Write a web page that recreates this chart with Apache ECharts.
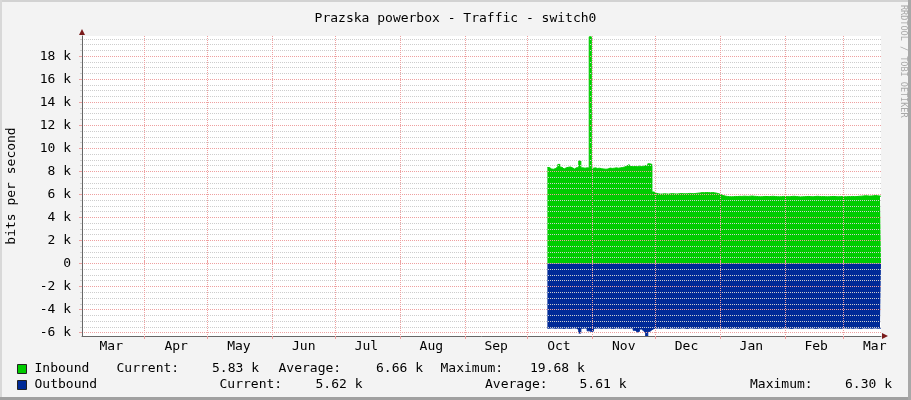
<!DOCTYPE html>
<html>
<head>
<meta charset="utf-8">
<title>Prazska powerbox - Traffic - switch0</title>
<script src="https://cdn.jsdelivr.net/npm/echarts@6/dist/echarts.min.js"></script>
<style>
html, body { margin: 0; padding: 0; background: #f3f3f3; }
#main { width: 911px; height: 400px; }
</style>
</head>
<body>
<div id="main"></div>
<script>
var FONT = '"DejaVu Sans Mono", "Liberation Mono", monospace';

// one category per day over the whole graph period
var firstDay = '2013-03-02';
var lastDay = '2014-03-19';
// the counters only have data from here on
var dataStart = '2013-10-11';

var monthNames = ['Jan', 'Feb', 'Mar', 'Apr', 'May', 'Jun', 'Jul', 'Aug', 'Sep', 'Oct', 'Nov', 'Dec'];

// inbound, k bit/s, daily from Oct 11 to Mar 19
var inboundOct = [8.33, 8.2, 8.18, 8.25, 8.4, 8.6, 8.35, 8.2, 8.3, 8.35, 8.38, 8.3, 8.2, 8.32, 8.3, 8.9, 8.3, 8.27, 8.3, 8.28, 19.68];
var inboundNov = [8.27, 8.3, 8.25, 8.27, 8.22, 8.2, 8.18, 8.2, 8.28, 8.25, 8.27, 8.3, 8.27, 8.3, 8.33, 8.38, 8.45, 8.58, 8.42, 8.4, 8.42, 8.4, 8.45, 8.42, 8.45, 8.5, 8.45, 8.65, 8.6, 6.2];
var inboundDec = [6.1, 6.05, 6.02, 6.03, 6.05, 6.04, 6.02, 6.05, 6.06, 6.04, 6.03, 6.05, 6.07, 6.06, 6.05, 6.06, 6.08, 6.07, 6.06, 6.08, 6.1, 6.12, 6.15, 6.14, 6.16, 6.15, 6.14, 6.16, 6.13, 6.1, 6.05];
var inboundJan = [5.98, 5.9, 5.85, 5.82, 5.8, 5.79, 5.8, 5.82, 5.81, 5.83, 5.82, 5.84, 5.83, 5.82, 5.84, 5.85, 5.83, 5.82, 5.8, 5.79, 5.8, 5.82, 5.81, 5.8, 5.82, 5.83, 5.81, 5.8, 5.79, 5.8, 5.82];
var inboundFeb = [5.81, 5.8, 5.79, 5.82, 5.83, 5.81, 5.8, 5.78, 5.79, 5.8, 5.81, 5.82, 5.8, 5.79, 5.81, 5.83, 5.82, 5.8, 5.81, 5.8, 5.79, 5.8, 5.81, 5.82, 5.8, 5.79, 5.8, 5.81];
var inboundMar = [5.8, 5.79, 5.81, 5.8, 5.82, 5.8, 5.81, 5.83, 5.84, 5.86, 5.88, 5.87, 5.85, 5.86, 5.88, 5.9, 5.87, 5.85, 5.83];

// outbound, drawn below zero
var outboundOct = [-5.62, -5.6, -5.61, -5.63, -5.6, -5.62, -5.61, -5.64, -5.6, -5.62, -5.63, -5.61, -5.6, -5.62, -5.75, -6.05, -5.62, -5.6, -5.63, -5.85, -5.9];
var outboundNov = [-5.88, -5.62, -5.6, -5.61, -5.63, -5.6, -5.62, -5.61, -5.6, -5.63, -5.62, -5.6, -5.61, -5.62, -5.6, -5.63, -5.61, -5.62, -5.6, -5.61, -5.8, -5.95, -5.9, -5.7, -5.85, -6.0, -6.3, -5.9, -5.75, -5.65];
var outboundDec = [-5.62, -5.6, -5.63, -5.61, -5.6, -5.62, -5.64, -5.6, -5.61, -5.62, -5.6, -5.63, -5.61, -5.6, -5.62, -5.64, -5.6, -5.61, -5.62, -5.6, -5.63, -5.61, -5.6, -5.62, -5.64, -5.6, -5.61, -5.62, -5.6, -5.63, -5.61];
var outboundJan = [-5.6, -5.62, -5.61, -5.6, -5.63, -5.62, -5.6, -5.61, -5.64, -5.6, -5.62, -5.61, -5.6, -5.63, -5.61, -5.6, -5.62, -5.64, -5.6, -5.61, -5.62, -5.6, -5.63, -5.61, -5.6, -5.62, -5.61, -5.6, -5.63, -5.62, -5.6];
var outboundFeb = [-5.61, -5.6, -5.62, -5.64, -5.6, -5.61, -5.62, -5.6, -5.63, -5.61, -5.6, -5.62, -5.61, -5.6, -5.63, -5.62, -5.6, -5.61, -5.62, -5.6, -5.63, -5.61, -5.6, -5.62, -5.61, -5.6, -5.63, -5.62];
var outboundMar = [-5.6, -5.61, -5.62, -5.6, -5.63, -5.61, -5.6, -5.62, -5.64, -5.6, -5.61, -5.62, -5.6, -5.63, -5.61, -5.6, -5.62, -5.61, -5.62];

var yMin = -6.3, yMax = 19.75;
var yTicks = [-6, -4, -2, 0, 2, 4, 6, 8, 10, 12, 14, 16, 18];
var yMinorTicks = [-5.5, -5, -4.5, -3.5, -3, -2.5, -1.5, -1, -0.5, 0.5, 1, 1.5, 2.5, 3, 3.5, 4.5, 5, 5.5,
    6.5, 7, 7.5, 8.5, 9, 9.5, 10.5, 11, 11.5, 12.5, 13, 13.5, 14.5, 15, 15.5, 16.5, 17, 17.5, 18.5, 19, 19.5];

// legend text: name, then current / average / maximum
var inboundStats = ['5.83 k', '6.66 k', '19.68 k'];
var outboundStats = ['5.62 k', '5.61 k', '6.30 k'];

var inColor = '#00cc00', outColor = '#002a97';
var majorGrid = '#eea0a0', minorGrid = '#cdcdcd';

;(function() {
    var days = [];
    for (var t = Date.parse(firstDay); t <= Date.parse(lastDay); t += 86400000) {
        days.push(new Date(t).toISOString().slice(0, 10));
    }
    var pad = new Array(days.indexOf(dataStart)).fill(null);
    var inData = pad.concat(inboundOct, inboundNov, inboundDec, inboundJan, inboundFeb, inboundMar);
    var outData = pad.concat(outboundOct, outboundNov, outboundDec, outboundJan, outboundFeb, outboundMar);

    var monthStart = function(i, v) { return v.slice(8) === '01'; };
    var midMonth = function(i, v) { return v.slice(8) === '16'; };

    var txt = function(x, y, s) {
        return { type: 'text', x: x, y: y, style: { text: s, font: '13px ' + FONT, fill: '#000', textVerticalAlign: 'middle' } };
    };

    var myChart = echarts.init(document.getElementById('main'));
    myChart.setOption({
        animation: false,
        backgroundColor: '#f3f3f3',
        title: {
            text: 'Prazska powerbox - Traffic - switch0',
            left: 'center',
            top: 7,
            textStyle: { fontFamily: FONT, fontSize: 13, fontWeight: 'normal', color: '#000' }
        },
        grid: {
            left: 82, top: 36, right: 30, bottom: 64,
            outerBoundsMode: 'none',
            show: true, backgroundColor: '#fff', borderWidth: 0
        },
        xAxis: [{
            type: 'category',
            data: days,
            boundaryGap: false,
            z: 3,
            axisLine: { onZero: false, lineStyle: { color: '#666', width: 1 } },
            axisTick: { interval: monthStart, length: 3, lineStyle: { color: majorGrid } },
            axisLabel: {
                interval: midMonth,
                margin: 4,
                fontFamily: FONT, fontSize: 13, color: '#000',
                formatter: function(v) { return monthNames[+v.slice(5, 7) - 1]; }
            },
            splitLine: { show: true, interval: monthStart, lineStyle: { color: majorGrid, type: [1, 1] } }
        }, {
            type: 'category',
            data: days,
            boundaryGap: false,
            position: 'top',
            z: 3,
            axisLine: { show: false },
            axisTick: { interval: monthStart, length: 3, lineStyle: { color: majorGrid } },
            axisLabel: { show: false },
            splitLine: { show: false }
        }],
        yAxis: [{
            type: 'value',
            min: yMin,
            max: yMax,
            z: 3,
            name: 'bits per second',
            nameLocation: 'middle',
            nameRotate: 90,
            nameGap: 64,
            nameTextStyle: { fontFamily: FONT, fontSize: 13, color: '#000' },
            axisLine: { show: true, lineStyle: { color: '#666', width: 1 } },
            axisTick: { show: true, length: 3, customValues: yTicks, lineStyle: { color: majorGrid } },
            axisLabel: {
                customValues: yTicks,
                margin: 11,
                fontFamily: FONT, fontSize: 13, color: '#000',
                formatter: function(v) { return v === 0 ? '0' : v + ' k'; }
            },
            splitLine: { show: true, lineStyle: { color: majorGrid, type: [1, 1] } }
        }, {
            type: 'value',
            min: yMin,
            max: yMax,
            position: 'left',
            z: 2.5,
            axisLine: { show: false },
            axisTick: { show: true, length: 2, customValues: yMinorTicks, lineStyle: { color: minorGrid } },
            axisLabel: { show: false },
            splitLine: { show: true, lineStyle: { color: minorGrid, type: [1, 1] } }
        }],
        series: [{
            name: 'Inbound',
            type: 'line',
            data: inData,
            step: 'middle',
            showSymbol: false,
            symbol: 'none',
            z: 2,
            lineStyle: { color: inColor, width: 1 },
            areaStyle: { color: inColor, opacity: 1 }
        }, {
            name: 'Outbound',
            type: 'line',
            data: outData,
            step: 'middle',
            showSymbol: false,
            symbol: 'none',
            z: 2,
            lineStyle: { color: outColor, width: 1 },
            areaStyle: { color: outColor, opacity: 1 }
        }],
        graphic: [
            // frame
            { type: 'rect', shape: { x: 0, y: 0, width: 911, height: 2 }, style: { fill: '#d2d2d2' }, z: 10 },
            { type: 'rect', shape: { x: 0, y: 0, width: 2, height: 400 }, style: { fill: '#d8d8d8' }, z: 10 },
            { type: 'rect', shape: { x: 0, y: 397, width: 911, height: 3 }, style: { fill: '#a0a0a0' }, z: 10 },
            { type: 'rect', shape: { x: 908, y: 0, width: 3, height: 400 }, style: { fill: '#a8a8a8' }, z: 10 },
            // axis arrows
            { type: 'polygon', shape: { points: [[79, 35], [85, 35], [82, 29]] }, style: { fill: '#7a1a1a' }, z: 10 },
            { type: 'polygon', shape: { points: [[882, 333], [882, 339], [888, 336]] }, style: { fill: '#7a1a1a' }, z: 10 },
            // watermark
            {
                type: 'text', x: 903, y: 5, rotation: -Math.PI / 2,
                style: { text: 'RRDTOOL / TOBI OETIKER', font: '8.5px ' + FONT, fill: '#a8a8a8', textVerticalAlign: 'middle' }
            },
            // legend
            { type: 'rect', shape: { x: 17.5, y: 364.5, width: 9, height: 9 }, style: { fill: inColor, stroke: '#222', lineWidth: 1 } },
            { type: 'rect', shape: { x: 17.5, y: 380.5, width: 9, height: 9 }, style: { fill: outColor, stroke: '#222', lineWidth: 1 } },
            txt(34.5, 369, 'Inbound'),
            txt(116.5, 369, 'Current:'),
            txt(212, 369, inboundStats[0]),
            txt(278.5, 369, 'Average:'),
            txt(376, 369, inboundStats[1]),
            txt(440.5, 369, 'Maximum:'),
            txt(530, 369, inboundStats[2]),
            txt(34.5, 385, 'Outbound'),
            txt(219.5, 385, 'Current:'),
            txt(315.5, 385, outboundStats[0]),
            txt(485, 385, 'Average:'),
            txt(579.5, 385, outboundStats[1]),
            txt(750, 385, 'Maximum:'),
            txt(845, 385, outboundStats[2])
        ]
    });
})();
</script>
</body>
</html>
